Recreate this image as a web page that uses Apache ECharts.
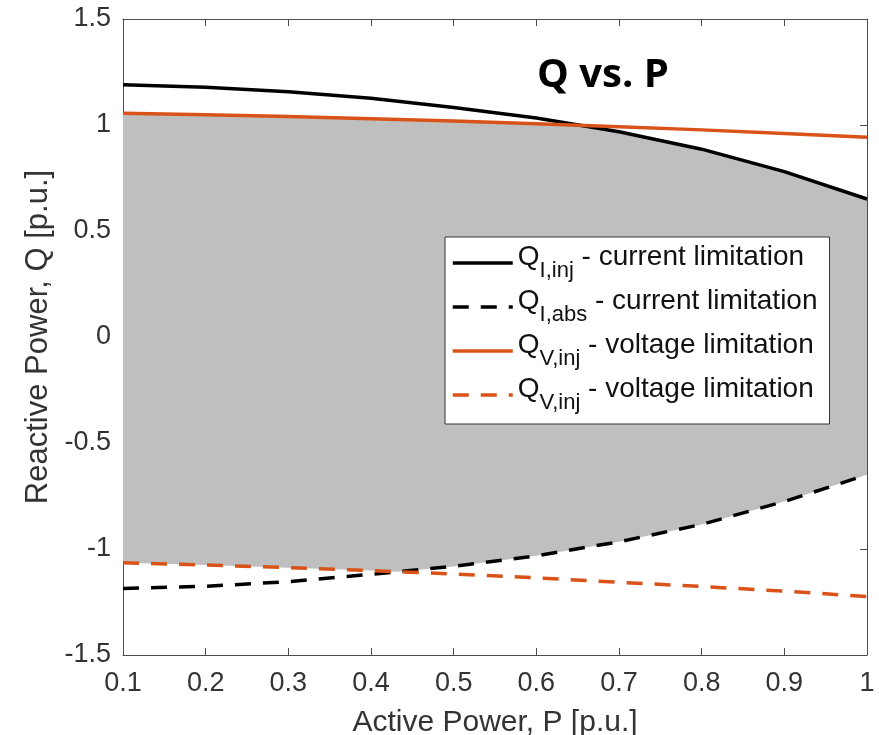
<!DOCTYPE html>
<html>
<head>
<meta charset="utf-8">
<script src="https://cdn.jsdelivr.net/npm/echarts@6/dist/echarts.min.js"></script>
<style>
html,body{margin:0;padding:0;background:#fff;}
#chart{width:879px;height:735px;}
</style>
</head>
<body>
<div id="chart"></div>
<script>
// ---- data ----
const P       = [0.1, 0.2, 0.3, 0.4, 0.5, 0.6, 0.7, 0.8, 0.9, 1.0];
const QI_inj  = [1.190, 1.178, 1.157, 1.126, 1.083, 1.033, 0.968, 0.886, 0.780, 0.651];
const QI_abs  = [-1.186, -1.176, -1.154, -1.119, -1.082, -1.032, -0.966, -0.884, -0.776, -0.650];
const QV_inj  = [1.055, 1.048, 1.040, 1.030, 1.019, 1.006, 0.992, 0.977, 0.960, 0.942];
const QV_abs  = [-1.065, -1.075, -1.088, -1.102, -1.118, -1.136, -1.157, -1.177, -1.199, -1.224];

const xTicks = [0.1, 0.2, 0.3, 0.4, 0.5, 0.6, 0.7, 0.8, 0.9, 1];
const yTicks = [-1.5, -1, -0.5, 0, 0.5, 1, 1.5];

const seriesKeys  = ['QI_inj', 'QI_abs', 'QV_inj', 'QV_abs'];
const legendMain  = ['Q', 'Q', 'Q', 'Q'];
const legendSub   = ['I,inj', 'I,abs', 'V,inj', 'V,inj'];
const legendRest  = [' - current limitation', ' - current limitation', ' - voltage limitation', ' - voltage limitation'];

const titleText = 'Q vs. P';
const xName = 'Active Power, P [p.u.]';
const yName = 'Reactive Power, Q [p.u.]';

// ---- build the feasible-region envelope (min of upper limits, max of lower limits) ----
function lerp(a, b, t) { return a + (b - a) * t; }
function envelope() {
  const xs = [], lo = [], up = [];
  const n = P.length;
  function pushAt(i, t) {
    const j = Math.min(i + 1, n - 1);
    const a = lerp(QI_inj[i], QI_inj[j], t), b = lerp(QV_inj[i], QV_inj[j], t);
    const c = lerp(QI_abs[i], QI_abs[j], t), d = lerp(QV_abs[i], QV_abs[j], t);
    xs.push(lerp(P[i], P[j], t));
    up.push(Math.min(a, b));
    lo.push(Math.max(c, d));
  }
  for (let i = 0; i < n; i++) {
    pushAt(i, 0);
    if (i < n - 1) {
      const ts = [];
      const d0 = QI_inj[i] - QV_inj[i], d1 = QI_inj[i + 1] - QV_inj[i + 1];
      if (d0 * d1 < 0) ts.push(d0 / (d0 - d1));
      const e0 = QI_abs[i] - QV_abs[i], e1 = QI_abs[i + 1] - QV_abs[i + 1];
      if (e0 * e1 < 0) ts.push(e0 / (e0 - e1));
      ts.sort((a, b) => a - b).forEach(t => pushAt(i, t));
    }
  }
  return { xs, lo, up };
}
const env = envelope();

const FONT = 'Liberation Sans, Arial, Helvetica, sans-serif';
const ORANGE = '#D95319';
const AXIS = '#4d4d4d';
const DASH = [16, 12];
const LW = 3.5;

const chart = echarts.init(document.getElementById('chart'), null, { renderer: 'canvas' });

const axisCommonX = {
  type: 'value',
  min: xTicks[0], max: xTicks[xTicks.length - 1], interval: 0.1,
  splitLine: { show: false },
  axisLine: { show: true, onZero: false, lineStyle: { color: AXIS, width: 1 } },
  axisTick: { show: true, inside: true, length: 7, lineStyle: { color: AXIS } }
};
const axisCommonY = {
  type: 'value',
  min: yTicks[0], max: yTicks[yTicks.length - 1], interval: 0.5,
  splitLine: { show: false },
  axisLine: { show: true, onZero: false, lineStyle: { color: AXIS, width: 1 } },
  axisTick: { show: true, inside: true, length: 7, lineStyle: { color: AXIS } }
};

const option = {
  animation: false,
  backgroundColor: '#ffffff',
  textStyle: { fontFamily: FONT },
  grid: { left: 123, right: 12, top: 19, bottom: 80, containLabel: false, outerBoundsMode: 'none' },
  graphic: [{
    type: 'text', x: 603, y: 76, z: 100,
    style: {
      text: titleText, font: 'bold 40px "Open Sans", "Noto Sans", sans-serif',
      fill: '#000', textAlign: 'center', textVerticalAlign: 'middle'
    }
  }],
  xAxis: [
    Object.assign({}, axisCommonX, {
      position: 'bottom',
      name: xName, nameLocation: 'middle', nameGap: 53,
      nameTextStyle: { fontFamily: FONT, fontSize: 30, color: '#333' },
      axisLabel: { show: true, margin: 15, fontFamily: FONT, fontSize: 27, color: '#333' }
    }),
    Object.assign({}, axisCommonX, {
      position: 'top',
      axisLabel: { show: false }
    })
  ],
  yAxis: [
    Object.assign({}, axisCommonY, {
      position: 'left',
      name: yName, nameLocation: 'middle', nameGap: 66,
      nameTextStyle: { fontFamily: FONT, fontSize: 31, color: '#333' },
      axisLabel: { show: true, margin: 12, fontFamily: FONT, fontSize: 27, color: '#333' }
    }),
    Object.assign({}, axisCommonY, {
      position: 'right',
      axisLabel: { show: false }
    })
  ],
  legend: {
    show: true,
    orient: 'vertical',
    left: 445, top: 237,
    padding: [4, 12, 7, 6],
    itemGap: 0,
    itemWidth: 60, itemHeight: 14,
    backgroundColor: '#ffffff',
    borderColor: '#333333', borderWidth: 1, borderRadius: 0,
    selectedMode: false,
    itemStyle: { opacity: 0 },
    lineStyle: { width: LW },
    data: seriesKeys,
    formatter: function (name) {
      const i = seriesKeys.indexOf(name);
      return '{m|' + legendMain[i] + '}{s|' + legendSub[i] + '}{m|' + legendRest[i] + '}';
    },
    textStyle: {
      fontFamily: FONT, color: '#111',
      rich: {
        m: { fontFamily: FONT, fontSize: 28, lineHeight: 44, verticalAlign: 'top', padding: [2, 0, 0, 0], color: '#111' },
        s: { fontFamily: FONT, fontSize: 22, lineHeight: 20, verticalAlign: 'bottom', padding: [0, 0, 3, 0], color: '#111' }
      }
    }
  },
  series: [
    {
      name: 'envelope', type: 'custom', silent: true, clip: true, z: 1,
      data: [0],
      renderItem: function (params, api) {
        const pts = [];
        for (let i = 0; i < env.xs.length; i++) pts.push(api.coord([env.xs[i], env.up[i]]));
        for (let i = env.xs.length - 1; i >= 0; i--) pts.push(api.coord([env.xs[i], env.lo[i]]));
        return { type: 'polygon', shape: { points: pts }, style: { fill: '#bfbfbf', stroke: null } };
      }
    },
    {
      name: 'QI_inj', type: 'line', data: P.map((p, i) => [p, QI_inj[i]]),
      symbol: 'none', showSymbol: false,
      lineStyle: { color: '#000', width: LW, type: 'solid' }, itemStyle: { color: '#000' }, z: 3
    },
    {
      name: 'QI_abs', type: 'line', data: P.map((p, i) => [p, QI_abs[i]]),
      symbol: 'none', showSymbol: false,
      lineStyle: { color: '#000', width: LW, type: DASH }, itemStyle: { color: '#000' }, z: 3
    },
    {
      name: 'QV_inj', type: 'line', data: P.map((p, i) => [p, QV_inj[i]]),
      symbol: 'none', showSymbol: false,
      lineStyle: { color: ORANGE, width: LW, type: 'solid' }, itemStyle: { color: ORANGE }, z: 3
    },
    {
      name: 'QV_abs', type: 'line', data: P.map((p, i) => [p, QV_abs[i]]),
      symbol: 'none', showSymbol: false,
      lineStyle: { color: ORANGE, width: LW, type: DASH }, itemStyle: { color: ORANGE }, z: 3
    }
  ]
};

chart.setOption(option);
</script>
</body>
</html>
